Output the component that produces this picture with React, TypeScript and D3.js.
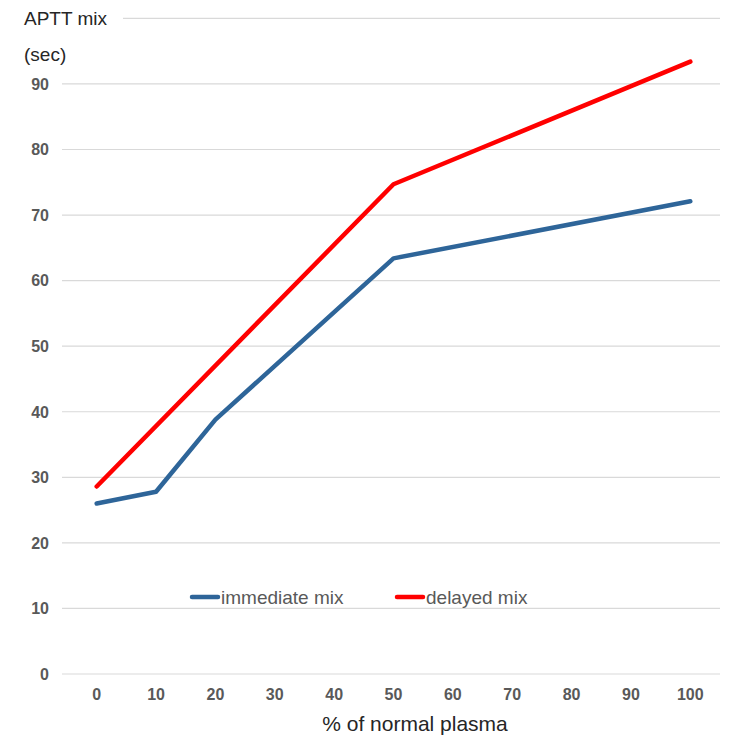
import React from "react";
import * as d3 from "d3";

const categories = [0, 10, 20, 30, 40, 50, 60, 70, 80, 90, 100];
const yTicks = [0, 10, 20, 30, 40, 50, 60, 70, 80, 90, 100];
const yTickLabels = ["0", "10", "20", "30", "40", "50", "60", "70", "80", "90", ""];

// only the measured points are known; gaps are bridged by the line
const immediateMix: [number, number][] = [
  [0, 26.0],
  [10, 27.8],
  [20, 38.8],
  [50, 63.4],
  [100, 72.1],
];
const delayedMix: [number, number][] = [
  [0, 28.6],
  [50, 74.7],
  [100, 93.4],
];

const series = [
  { name: "immediate mix", color: "#2e6599", values: immediateMix },
  { name: "delayed mix", color: "#ff0000", values: delayedMix },
];

const W = 750;
const H = 750;
const font = "'Liberation Sans', Arial, sans-serif";

export default function App() {
  const x = d3
    .scalePoint<number>()
    .domain(categories)
    .range([67, 720])
    .padding(0.5);
  const y = d3.scaleLinear().domain([0, 100]).range([674, 18.4]);

  const line = d3
    .line<[number, number]>()
    .x((d) => x(d[0]) as number)
    .y((d) => y(d[1]));

  const legendX = [192, 397];

  return (
    <svg
      width={W}
      height={H}
      style={{ position: "absolute", left: 0, top: 0, background: "#fff" }}
      fontFamily={font}
    >
      <rect width={W} height={H} fill="#fff" />
      {yTicks.map((t) => (
        <line
          key={"g" + t}
          x1={62}
          x2={720}
          y1={y(t)}
          y2={y(t)}
          stroke="#d9d9d9"
          strokeWidth={1.2}
        />
      ))}
      {yTicks.map((t, i) => (
        <text
          key={"yl" + t}
          x={49}
          y={y(t)}
          dy="0.36em"
          textAnchor="end"
          fontSize={16}
          fontWeight="bold"
          fill="#595959"
        >
          {yTickLabels[i]}
        </text>
      ))}
      {categories.map((c) => (
        <text
          key={"xl" + c}
          x={x(c) as number}
          y={700}
          textAnchor="middle"
          fontSize={16}
          fontWeight="bold"
          fill="#595959"
        >
          {c}
        </text>
      ))}
      <rect x={20} y={4} width={103} height={28} fill="#fff" />
      <text x={24} y={25} fontSize={19} fill="#262626">
        APTT mix
      </text>
      <text x={24} y={61} fontSize={19} fill="#262626">
        (sec)
      </text>
      <text x={415} y={731} textAnchor="middle" fontSize={21} fill="#262626">
        % of normal plasma
      </text>
      {series.map((s) => (
        <path
          key={s.name}
          d={line(s.values) || ""}
          fill="none"
          stroke={s.color}
          strokeWidth={4.5}
          strokeLinejoin="round"
          strokeLinecap="round"
        />
      ))}
      {series.map((s, i) => (
        <g key={"lg" + s.name} transform={`translate(${legendX[i]},597)`}>
          <line x1={0} x2={26} y1={0} y2={0} stroke={s.color} strokeWidth={4.5} strokeLinecap="round" />
          <text x={29} y={0} dy="0.35em" fontSize={19} fill="#595959">
            {s.name}
          </text>
        </g>
      ))}
    </svg>
  );
}
